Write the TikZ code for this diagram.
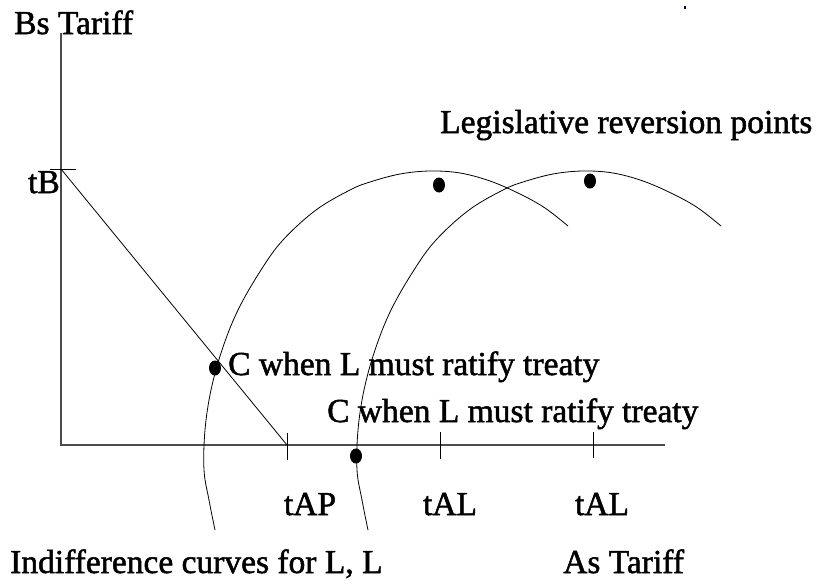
\documentclass[tikz,border=0pt]{standalone}
\usepackage{fontspec}
\setmainfont{Liberation Serif}
\newfontfamily\lblfont[FakeBold=1.5]{Liberation Serif}
\begin{document}
\begin{tikzpicture}[x=1pt,y=-1pt,
  lbl/.style={inner sep=0pt,font=\lblfont\fontsize{33.5}{36}\selectfont},
  axisline/.style={line width=1.4pt,black!70},
  tickline/.style={line width=0.8pt},
  curveline/.style={line width=0.8pt},
  dotmark/.style={fill=black,x radius=6,y radius=7.5}]
\useasboundingbox (0,0) rectangle (817,587);
% axes
\coordinate (ytop) at (61,33);
\coordinate (orig) at (61,445);
\coordinate (xend) at (665,445);
\draw[axisline] (ytop) -- (orig) -- (xend);
% tB tick and budget line
\coordinate (tBl) at (50,169);
\coordinate (tBr) at (76,169);
\coordinate (tBp) at (61,169);
\coordinate (tAPp) at (287,445);
\draw[tickline] (tBl) -- (tBr);
\draw[tickline] (tBp) -- (tAPp);
% ticks on x axis
\coordinate (k1a) at (287,433); \coordinate (k1b) at (287,460);
\coordinate (k2a) at (440,432); \coordinate (k2b) at (440,459);
\coordinate (k3a) at (593,432); \coordinate (k3b) at (593,458);
\draw[tickline] (k1a) -- (k1b);
\draw[tickline] (k2a) -- (k2b);
\draw[tickline] (k3a) -- (k3b);
% indifference curves
\def\icurve{(215,530) (209,500) (204,470) (205,430) (211,390) (222,350)
  (238,310) (261,270) (283,240) (316,210) (350,190) (370,182) (400,174)
  (430,171) (460,173) (490,181) (520,194) (545,208) (568,226)}
\draw[curveline] plot[smooth,tension=0.6] coordinates {\icurve};
\draw[curveline,xshift=153pt] plot[smooth,tension=0.6] coordinates {\icurve};
% dots
\fill[dotmark] (215,368) ellipse[];
\fill[dotmark] (439,185) ellipse[];
\fill[dotmark] (590,181) ellipse[];
\fill[dotmark] (356,456) ellipse[];
% stray mark
\fill[black!80!blue] (684,6) rectangle (686,8.5);
% labels
\node[lbl,anchor=base west] (bs) at (14,34) {Bs Tariff};
\node[lbl,anchor=base east] (tb) at (60,193) {tB};
\node[lbl,anchor=base west] (lrp) at (440,133) {Legislative reversion points};
\node[lbl,anchor=base west] (c1) at (228,375) {C when L must ratify treaty};
\node[lbl,anchor=base west] (c2) at (327,422) {C when L must ratify treaty};
\node[lbl,anchor=base] (tap) at (310,515) {tAP};
\node[lbl,anchor=base] (tal1) at (450,515) {tAL};
\node[lbl,anchor=base] (tal2) at (602,515) {tAL};
\node[lbl,anchor=base west] (ic) at (10,573) {Indifference curves for L, L};
\node[lbl,anchor=base west] (as) at (563,573) {As Tariff};
\end{tikzpicture}
\end{document}
